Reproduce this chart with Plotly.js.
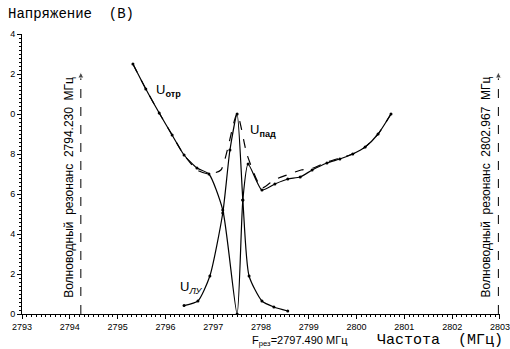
<!DOCTYPE html>
<html><head><meta charset="utf-8">
<script src="https://cdn.plot.ly/plotly-3.0.1.min.js"></script>
<style>html,body{margin:0;padding:0;background:#fff}</style>
</head><body>
<div id="chart" style="width:510px;height:349px"></div>
<script>
// Reflected voltage U_отр
const otrX = [2795.32, 2795.59, 2795.87, 2796.14, 2796.39, 2796.66, 2796.91, 2797.20, 2797.50, 2797.62, 2797.73, 2798.02, 2798.29, 2798.56, 2798.82, 2799.07, 2799.38, 2799.65, 2799.92, 2800.18, 2800.45, 2800.72];
const otrY = [12.5, 11.25, 10.05, 8.95, 7.95, 7.3, 7.0, 5.2, 0.0, 5.7, 7.5, 6.2, 6.5, 6.75, 6.85, 7.2, 7.55, 7.75, 8.0, 8.35, 9.0, 10.0];
// Incident voltage U_пад
const padX = [2795.32, 2795.59, 2795.87, 2796.14, 2796.39, 2796.66, 2796.91, 2797.16, 2797.50, 2797.71, 2798.02, 2798.27, 2798.54, 2798.84, 2799.09, 2799.38, 2799.65, 2799.92, 2800.18, 2800.45, 2800.72];
const padY = [12.5, 11.25, 10.05, 8.95, 7.95, 7.2, 7.0, 7.2, 10.0, 7.95, 6.3, 6.7, 6.95, 7.2, 7.3, 7.6, 7.8, 8.0, 8.35, 9.0, 10.0];
// Accelerator section voltage U_ЛУ
const luX = [2796.39, 2796.68, 2796.93, 2797.20, 2797.35, 2797.50, 2797.62, 2797.75, 2798.02, 2798.27, 2798.56];
const luY = [0.42, 0.65, 1.9, 5.05, 8.2, 10.0, 5.7, 1.9, 0.65, 0.35, 0.15];
// Waveguide resonances
const resX = [2794.230, 2802.967];
const resLabels = ["Волноводный  резонанс  2794.230  МГц", "Волноводный  резонанс  2802.967  МГц"];
const resTop = 12.1;
const yTickVals = [0, 2, 4, 6, 8, 10, 12, 14];
const yTickText = ["0", "2", "4", "6", "8", "0", "2", "4"];
const xTickVals = [2793, 2794, 2795, 2796, 2797, 2798, 2799, 2800, 2801, 2802, 2803];

const black = '#000';
const traces = [
  {x: otrX, y: otrY, mode: 'lines+markers', line: {shape: 'spline', smoothing: 0.6, color: black, width: 1.2}, marker: {size: 3, color: black}},
  {x: padX, y: padY, mode: 'lines', line: {shape: 'spline', smoothing: 0.6, color: black, width: 1.2, dash: 'dash'}},
  {x: luX, y: luY, mode: 'lines+markers', line: {shape: 'spline', smoothing: 0.6, color: black, width: 1.2}, marker: {size: 3, color: black}}
];
resX.forEach(rx => {
  traces.push({x: [rx, rx], y: [0, resTop], mode: 'lines+markers', line: {color: black, width: 1, dash: 'dash'},
    marker: {symbol: ['circle', 'arrow-up'], size: [0.1, 6], color: black}, cliponaxis: false});
});

const annotations = [
  {xref: 'paper', yref: 'paper', x: -0.034, y: 1.07, xanchor: 'left', yanchor: 'middle', showarrow: false,
   text: 'Напряжение  (В)', font: {family: 'Liberation Mono', size: 14, color: black}},
  {xref: 'paper', yref: 'paper', x: 1.01, y: -0.096, xanchor: 'right', yanchor: 'middle', showarrow: false,
   text: 'Частота  (МГц)', font: {family: 'Liberation Mono', size: 15, color: black}},
  {xref: 'paper', yref: 'paper', x: 0.477, y: -0.096, xanchor: 'left', yanchor: 'middle', showarrow: false,
   text: 'F<sub>рез</sub>=2797.490 МГц', font: {family: 'Liberation Sans', size: 11, color: black}},
  {x: 2795.76, y: 11.2, xanchor: 'left', showarrow: false, text: 'U<sub><b>отр</b></sub>', font: {family: 'Liberation Sans', size: 13, color: black}},
  {x: 2797.73, y: 9.2, xanchor: 'left', showarrow: false, text: 'U<sub><b>пад</b></sub>', font: {family: 'Liberation Sans', size: 13, color: black}},
  {x: 2796.26, y: 1.35, xanchor: 'left', showarrow: false, text: 'U<sub><i>ЛУ</i></sub>', font: {family: 'Liberation Sans', size: 13, color: black}}
];
resX.forEach((rx, i) => {
  annotations.push({x: rx, y: 6.35, xshift: -12, textangle: -90, showarrow: false, text: resLabels[i],
    font: {family: 'Liberation Sans', size: 12, color: black}});
});

const layout = {
  width: 510, height: 349,
  margin: {l: 22, r: 10, t: 34, b: 35},
  paper_bgcolor: '#fff', plot_bgcolor: '#fff',
  showlegend: false,
  font: {family: 'Liberation Sans', size: 9, color: black},
  xaxis: {range: [2792.999, 2803.001], tickvals: xTickVals, ticktext: xTickVals.map(String), showgrid: false, zeroline: false,
    showline: true, linecolor: black, linewidth: 1, ticks: 'outside', ticklen: 4, tickcolor: black, ticklabeloverflow: 'allow',
    minor: {dtick: 0.1, ticks: 'outside', ticklen: 2, tickcolor: black, showgrid: false},
    tickfont: {family: 'Liberation Sans', size: 9, color: black}},
  yaxis: {range: [0, 14], tickvals: yTickVals, ticktext: yTickText, showgrid: false, zeroline: false,
    showline: true, linecolor: black, linewidth: 1, ticks: 'outside', ticklen: 4, tickcolor: black,
    minor: {dtick: 0.2, ticks: 'outside', ticklen: 2, tickcolor: black, showgrid: false},
    tickfont: {family: 'Liberation Sans', size: 9, color: black}},
  annotations: annotations
};
Plotly.newPlot('chart', traces, layout, {displayModeBar: false, staticPlot: true});
</script>
</body></html>
